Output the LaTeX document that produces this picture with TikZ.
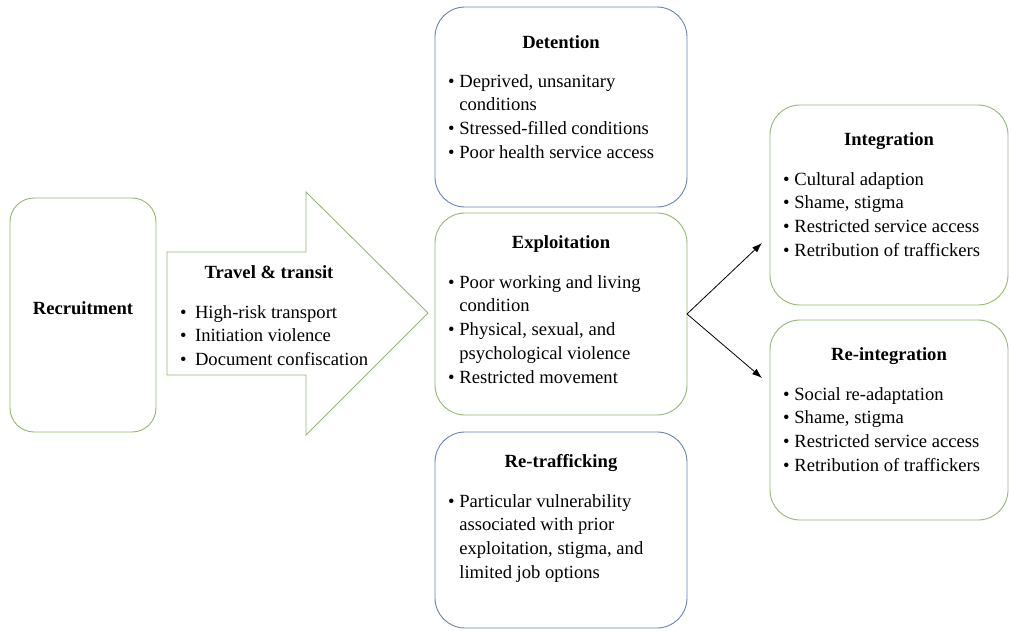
\documentclass[tikz,border=0pt]{standalone}
\usepackage{fontspec}
\setmainfont{Liberation Serif}
\usetikzlibrary{positioning,arrows.meta}
\definecolor{boxgreen}{RGB}{150,182,115}
\definecolor{boxblue}{RGB}{105,130,178}

\begin{document}
\begin{tikzpicture}
  [x=1pt,y=1pt,
   greenbox/.style={rectangle,rounded corners=30pt,draw=boxgreen,line width=0.9pt,
                    outer sep=0,inner sep=0},
   bluebox/.style={rectangle,rounded corners=30pt,draw=boxblue,line width=0.9pt,
                   outer sep=0,inner sep=0},
   heading/.style={inner sep=0,font=\fontsize{18.6}{23.8}\selectfont\bfseries},
   bullets/.style={inner sep=0,align=left,font=\fontsize{18.6}{23.8}\selectfont},
   flow/.style={-{Latex[length=10pt,width=7pt]},line width=0.8pt}]
  \useasboundingbox (0,0) rectangle (1009,630);
  % recruitment and the big arrow
  \node[greenbox,rounded corners=24pt,minimum width=146pt,minimum height=234pt] (recruit) at (83,315) {};
  \node[heading] (recruittitle) at ([yshift=7pt]recruit.center) {Recruitment};
  \draw[boxgreen,line width=0.9pt] (167,378) -- (306,378) -- (306,438) -- (428,317)
    -- (306,195) -- (306,255) -- (167,255) -- cycle;
  \node[heading] (traveltitle) at (269,358) {Travel \& transit};
  \node[bullets,anchor=north west] (travellist) at (180,325)
    {\textbullet\hspace{0.45em}High-risk transport\\\textbullet\hspace{0.45em}Initiation violence\\
     \textbullet\hspace{0.45em}Document confiscation};
  % middle column
  \node[bluebox,minimum width=252pt,minimum height=200pt] (detention) at (561,523) {};
  \node[heading,below=28pt of detention.north] (detentiontitle) {Detention};
  \node[bullets,below right=67pt and 13pt of detention.north west] (detentionlist)
    {\textbullet~Deprived, unsanitary\\\phantom{\textbullet~}conditions\\
     \textbullet~Stressed-filled conditions\\\textbullet~Poor health service access};
  \node[greenbox,minimum width=252pt,minimum height=202pt] (exploit) at (561,316) {};
  \node[heading,below=22pt of exploit.north] (exploittitle) {Exploitation};
  \node[bullets,below right=62pt and 13pt of exploit.north west] (exploitlist)
    {\textbullet~Poor working and living\\\phantom{\textbullet~}condition\\
     \textbullet~Physical, sexual, and\\\phantom{\textbullet~}psychological violence\\
     \textbullet~Restricted movement};
  \node[bluebox,minimum width=252pt,minimum height=196pt] (retraffic) at (561,100) {};
  \node[heading,below=22pt of retraffic.north] (retraffictitle) {Re-trafficking};
  \node[bullets,below right=62pt and 13pt of retraffic.north west] (retrafficlist)
    {\textbullet~Particular vulnerability\\\phantom{\textbullet~}associated with prior\\
     \phantom{\textbullet~}exploitation, stigma, and\\\phantom{\textbullet~}limited job options};
  % right column
  \node[greenbox,minimum width=238pt,minimum height=200pt] (integ) at (889,425) {};
  \node[heading,below=27pt of integ.north] (integtitle) {Integration};
  \node[bullets,below right=67pt and 13pt of integ.north west] (integlist)
    {\textbullet~Cultural adaption\\\textbullet~Shame, stigma\\
     \textbullet~Restricted service access\\\textbullet~Retribution of traffickers};
  \node[greenbox,minimum width=238pt,minimum height=200pt] (reint) at (889,210) {};
  \node[heading,below=27pt of reint.north] (reinttitle) {Re-integration};
  \node[bullets,below right=67pt and 13pt of reint.north west] (reintlist)
    {\textbullet~Social re-adaptation\\\textbullet~Shame, stigma\\
     \textbullet~Restricted service access\\\textbullet~Retribution of traffickers};
  \coordinate (tointeg) at (762,387);
  \coordinate (toreint) at (762,252);
  \draw[flow] (exploit.east) -- (tointeg);
  \draw[flow] (exploit.east) -- (toreint);
\end{tikzpicture}
\end{document}
